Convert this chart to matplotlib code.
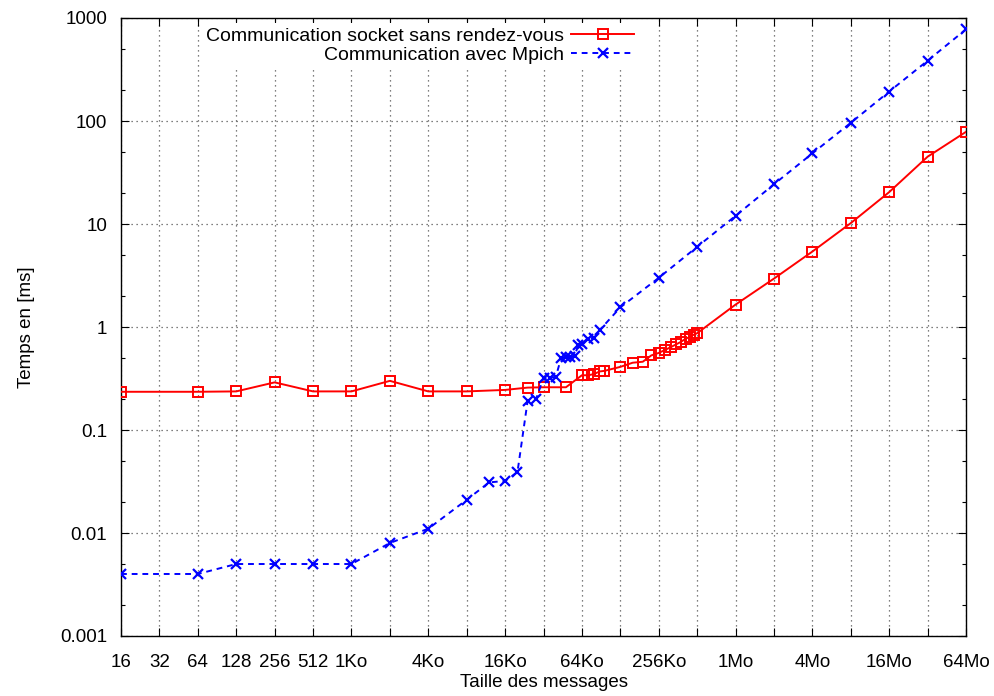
import matplotlib
matplotlib.use('Agg')
import matplotlib.pyplot as plt
from matplotlib.ticker import FixedLocator, FixedFormatter, NullFormatter

plt.rcParams['font.family'] = ['Liberation Sans', 'DejaVu Sans']

K = 1024
M = 1024 * 1024

# Communication socket sans rendez-vous
socket_size = [16, 64, 128, 256, 512, 1*K, 2*K, 4*K, 8*K, 16*K, 24*K, 32*K, 48*K,
               64*K, 72*K, 80*K, 88*K, 96*K, 128*K, 160*K, 192*K, 224*K, 256*K,
               288*K, 320*K, 352*K, 384*K, 416*K, 448*K, 480*K, 512*K,
               1*M, 2*M, 4*M, 8*M, 16*M, 32*M, 64*M]
socket_time = [0.235, 0.235, 0.237, 0.29, 0.237, 0.237, 0.30, 0.237, 0.237, 0.245, 0.258, 0.26, 0.26,
               0.34, 0.34, 0.35, 0.37, 0.375, 0.41, 0.45, 0.46, 0.53, 0.56,
               0.60, 0.64, 0.68, 0.72, 0.77, 0.80, 0.84, 0.87,
               1.65, 2.95, 5.4, 10.2, 20.4, 45.0, 78.5]

# Communication avec Mpich
mpich_size = [16, 64, 128, 256, 512, 1*K, 2*K, 4*K, 8*K, 12*K, 16*K, 20*K, 24*K, 28*K,
              32*K, 36*K, 40*K, 44*K, 48*K, 52*K, 56*K, 60*K, 64*K, 72*K, 80*K, 88*K,
              128*K, 256*K, 512*K, 1*M, 2*M, 4*M, 8*M, 16*M, 32*M, 64*M]
mpich_time = [0.004, 0.004, 0.005, 0.005, 0.005, 0.005, 0.008, 0.011, 0.021, 0.031, 0.032, 0.039, 0.19, 0.20,
              0.32, 0.32, 0.33, 0.50, 0.51, 0.51, 0.52, 0.67, 0.68, 0.77, 0.79, 0.93,
              1.55, 3.0, 6.0, 12.0, 24.3, 48.5, 96.0, 193.0, 385.0, 776.0]

xtick_pos = [2 ** p for p in range(4, 27)]
xtick_labels = ['16', '32', '64', '128', '256', '512', '1Ko', '', '4Ko', '', '16Ko', '', '64Ko', '',
                '256Ko', '', '1Mo', '', '4Mo', '', '16Mo', '', '64Mo']
ytick_pos = [0.001, 0.01, 0.1, 1, 10, 100, 1000]
ytick_labels = ['0.001', '0.01', '0.1', '1', '10', '100', '1000']

fig = plt.figure(figsize=(9.94, 6.96), dpi=100)
ax = fig.add_axes([121 / 994, 1 - 636 / 696, 845 / 994, 618 / 696])

ax.plot(socket_size, socket_time, color='#ff0000', lw=1.4, marker='s', ms=7,
        mfc='none', mec='#ff0000', mew=1.4, label='Communication socket sans rendez-vous', zorder=3)
ax.plot(mpich_size, mpich_time, color='#0000ff', lw=1.4, ls=(0, (3, 2.5)), marker='x', ms=7,
        mew=1.6, label='Communication avec Mpich', zorder=3)

ax.set_xscale('log', base=2)
ax.set_yscale('log')
ax.set_xlim(16, 64 * M)
ax.set_ylim(0.001, 1000)

ax.xaxis.set_major_locator(FixedLocator(xtick_pos))
ax.xaxis.set_major_formatter(FixedFormatter(xtick_labels))
ax.xaxis.set_minor_locator(FixedLocator([]))
ax.yaxis.set_major_locator(FixedLocator(ytick_pos))
ax.yaxis.set_major_formatter(FixedFormatter(ytick_labels))
minor_y = [m * 10.0 ** e for e in range(-3, 3) for m in (2, 5)]
ax.yaxis.set_minor_locator(FixedLocator(minor_y))
ax.yaxis.set_minor_formatter(NullFormatter())

ax.tick_params(which='both', direction='in', top=True, right=True, labelsize=13.5, width=0.8)
ax.tick_params(which='major', length=6)
ax.tick_params(axis='x', which='major', pad=13)
ax.tick_params(axis='y', which='major', pad=10)
ax.tick_params(which='minor', length=3)

ax.grid(True, which='major', color='#555555', ls=(0, (1, 3)), lw=0.9)
for s in ax.spines.values():
    s.set_linewidth(1.0)

ax.set_xlabel('Taille des messages', fontsize=13.5, labelpad=2)
ax.set_ylabel('Temps en [ms]', fontsize=13.5, labelpad=18)

leg = ax.legend(loc='upper right', bbox_to_anchor=(0.624, 1.008), markerfirst=False, frameon=True,
                fancybox=False, edgecolor='none', facecolor='white', framealpha=1.0,
                fontsize=14, handlelength=3.2, labelspacing=0.05, borderpad=0.25, handletextpad=0.4)
leg.get_frame().set_linewidth(0)
for t in leg.get_texts():
    t.set_ha('right')

fig.savefig('out.png', dpi=100)
